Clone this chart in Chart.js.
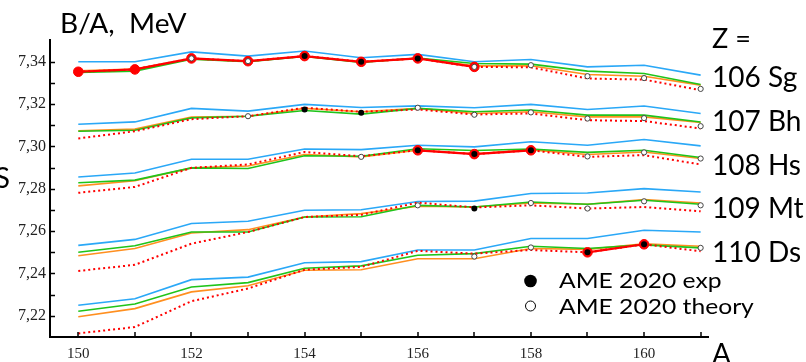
<!DOCTYPE html>
<html>
<head>
<meta charset="utf-8">
<script src="https://cdn.jsdelivr.net/npm/chart.js@4/dist/chart.umd.min.js"></script>
<style>
  html, body { margin: 0; padding: 0; background: #fff; }
  #wrap { width: 806px; height: 362px; position: relative; }
</style>
</head>
<body>
<div id="wrap"><canvas id="c" width="806" height="362"></canvas></div>
<script>
// Mass numbers A along the isotope chains
const massNumbers = [150, 151, 152, 153, 154, 155, 156, 157, 158, 159, 160, 161];

// Y tick values (MeV) and which of them carry a label
const yTickValues = [7.22, 7.23, 7.24, 7.25, 7.26, 7.27, 7.28, 7.29, 7.30, 7.31, 7.32, 7.33, 7.34];

// Z = 106 (Sg)
const sgBlue   = [7.3400, 7.3400, 7.3447, 7.3427, 7.3451, 7.3419, 7.3435, 7.3400, 7.3411, 7.3376, 7.3384, 7.3337];
const sgGreen  = [7.3350, 7.3356, 7.3412, 7.3401, 7.3425, 7.3397, 7.3418, 7.3392, 7.3389, 7.3356, 7.3345, 7.3293];
const sgOrange = [7.3358, 7.3366, 7.3413, 7.3402, 7.3426, 7.3399, 7.3416, 7.3381, 7.3381, 7.3340, 7.3332, 7.3290];
const sgRed    = [7.3353, 7.3364, 7.3416, 7.3403, 7.3427, 7.3400, 7.3416, 7.3376, 7.3374, 7.3321, 7.3316, 7.3266];
const sgRedFit = [7.3353, 7.3364, 7.3416, 7.3403, 7.3427, 7.3400, 7.3416, 7.3376, null, null, null, null];
const sgExp    = [null, null, null, null, 7.3427, 7.3400, 7.3416, null, null, null, null, null];
const sgTheory = [null, null, 7.3416, 7.3403, null, null, null, 7.3376, 7.3384, 7.3332, 7.3323, 7.3272];

// Z = 107 (Bh)
const bhBlue   = [7.3105, 7.3116, 7.3180, 7.3167, 7.3199, 7.3184, 7.3192, 7.3183, 7.3199, 7.3175, 7.3191, 7.3156];
const bhGreen  = [7.3072, 7.3077, 7.3135, 7.3143, 7.3170, 7.3153, 7.3180, 7.3164, 7.3172, 7.3148, 7.3148, 7.3116];
const bhOrange = [7.3074, 7.3082, 7.3139, 7.3143, 7.3180, 7.3164, 7.3180, 7.3156, 7.3164, 7.3140, 7.3140, 7.3113];
const bhRed    = [7.3038, 7.3072, 7.3129, 7.3143, 7.3183, 7.3164, 7.3175, 7.3151, 7.3156, 7.3124, 7.3120, 7.3085];
const bhRedFit = [null, null, null, null, null, null, null, null, null, null, null, null];
const bhExp    = [null, null, null, null, 7.3175, 7.3159, null, null, null, null, null, null];
const bhTheory = [null, null, null, 7.3143, null, null, 7.3183, 7.3150, 7.3161, 7.3132, 7.3134, 7.3096];

// Z = 108 (Hs)
const hsBlue   = [7.2856, 7.2875, 7.2940, 7.2940, 7.2988, 7.2985, 7.3006, 7.2998, 7.3022, 7.3006, 7.3033, 7.3003];
const hsGreen  = [7.2829, 7.2841, 7.2899, 7.2896, 7.2956, 7.2954, 7.2989, 7.2981, 7.2988, 7.2972, 7.2982, 7.2948];
const hsOrange = [7.2814, 7.2838, 7.2899, 7.2908, 7.2962, 7.2951, 7.2982, 7.2966, 7.2984, 7.2962, 7.2974, 7.2943];
const hsRed    = [7.2781, 7.2809, 7.2899, 7.2915, 7.2974, 7.2954, 7.2982, 7.2964, 7.2982, 7.2951, 7.2959, 7.2915];
const hsRedFit = [null, null, null, null, null, null, 7.2982, 7.2964, 7.2982, null, null, null];
const hsExp    = [null, null, null, null, null, null, 7.2982, 7.2964, 7.2982, null, null, null];
const hsTheory = [null, null, null, null, null, 7.2951, null, null, null, 7.2953, 7.2972, 7.2943];

// Z = 109 (Mt)
const mtBlue   = [7.2533, 7.2561, 7.2636, 7.2647, 7.2699, 7.2701, 7.2740, 7.2742, 7.2778, 7.2780, 7.2801, 7.2785];
const mtGreen  = [7.2500, 7.2531, 7.2596, 7.2596, 7.2667, 7.2668, 7.2722, 7.2714, 7.2738, 7.2727, 7.2746, 7.2727];
const mtOrange = [7.2484, 7.2518, 7.2591, 7.2607, 7.2667, 7.2683, 7.2718, 7.2714, 7.2733, 7.2727, 7.2749, 7.2733];
const mtRed    = [7.2412, 7.2441, 7.2541, 7.2596, 7.2667, 7.2677, 7.2735, 7.2712, 7.2722, 7.2707, 7.2714, 7.2694];
const mtRedFit = [null, null, null, null, null, null, null, null, null, null, null, null];
const mtExp    = [null, null, null, null, null, null, null, 7.2707, null, null, null, null];
const mtTheory = [null, null, null, null, null, null, 7.2722, null, 7.2733, 7.2707, 7.2741, 7.2722];

// Z = 110 (Ds)
const dsBlue   = [7.2250, 7.2281, 7.2371, 7.2383, 7.2451, 7.2456, 7.2511, 7.2511, 7.2565, 7.2565, 7.2604, 7.2596];
const dsGreen  = [7.2222, 7.2256, 7.2336, 7.2357, 7.2425, 7.2436, 7.2486, 7.2494, 7.2529, 7.2518, 7.2535, 7.2521];
const dsOrange = [7.2196, 7.2234, 7.2313, 7.2342, 7.2415, 7.2418, 7.2470, 7.2470, 7.2518, 7.2514, 7.2540, 7.2529];
const dsRed    = [7.2117, 7.2147, 7.2269, 7.2329, 7.2418, 7.2431, 7.2507, 7.2494, 7.2511, 7.2500, 7.2538, 7.2505];
const dsRedFit = [null, null, null, null, null, null, null, null, null, 7.2500, 7.2538, null];
const dsExp    = [null, null, null, null, null, null, null, null, null, 7.2500, 7.2538, null];
const dsTheory = [null, null, null, null, null, null, null, 7.2480, 7.2523, null, null, 7.2521];

// Element labels on the right
const elementLabels = ['106 Sg', '107 Bh', '108 Hs', '109 Mt', '110 Ds'];

const chains = [
  [sgBlue, sgGreen, sgOrange, sgRed, sgRedFit, sgExp, sgTheory],
  [bhBlue, bhGreen, bhOrange, bhRed, bhRedFit, bhExp, bhTheory],
  [hsBlue, hsGreen, hsOrange, hsRed, hsRedFit, hsExp, hsTheory],
  [mtBlue, mtGreen, mtOrange, mtRed, mtRedFit, mtExp, mtTheory],
  [dsBlue, dsGreen, dsOrange, dsRed, dsRedFit, dsExp, dsTheory]
];

const BLUE = '#2aa8f7', GREEN = '#1fc41a', ORANGE = '#ff8f1f', RED = '#ff0000';

const pts = arr => massNumbers.map((a, i) => ({ x: a, y: arr[i] }));

// Build datasets from bottom layer to top layer
const layers = { blue: [], orange: [], green: [], red: [], fit: [], theory: [], exp: [] };
chains.forEach(([blue, green, orange, red, fit, exp, theory]) => {
  layers.blue.push({ data: pts(blue), borderColor: BLUE, borderWidth: 1.6, pointRadius: 0, tension: 0 });
  layers.orange.push({ data: pts(orange), borderColor: ORANGE, borderWidth: 1.6, pointRadius: 0, tension: 0 });
  layers.green.push({ data: pts(green), borderColor: GREEN, borderWidth: 1.6, pointRadius: 0, tension: 0 });
  layers.red.push({ data: pts(red), borderColor: RED, borderWidth: 2, borderDash: [2, 3], pointRadius: 0, tension: 0 });
  layers.fit.push({ data: pts(fit), borderColor: RED, borderWidth: 2.2, pointRadius: 4.8, pointBackgroundColor: RED,
                    pointBorderColor: RED, pointBorderWidth: 1, spanGaps: false, tension: 0 });
  layers.theory.push({ data: pts(theory), showLine: false, pointRadius: 2.6, pointBackgroundColor: '#fff',
                       pointBorderColor: '#444', pointBorderWidth: 1 });
  layers.exp.push({ data: pts(exp), showLine: false, pointRadius: 3, pointBackgroundColor: '#000',
                    pointBorderColor: '#000', pointBorderWidth: 0 });
});
const ordered = [].concat(layers.blue, layers.orange, layers.green, layers.red, layers.fit, layers.theory, layers.exp);
// Chart.js draws lower "order" on top
ordered.forEach((d, i) => { d.order = ordered.length - i; d.fill = false; });

// Short tick marks pointing into the plot area
const inwardTicks = {
  id: 'inwardTicks',
  afterDraw(chart) {
    const { ctx, chartArea, scales } = chart;
    ctx.save();
    ctx.strokeStyle = '#000';
    ctx.lineWidth = 1.5;
    scales.x.ticks.forEach(t => {
      const px = Math.round(scales.x.getPixelForValue(t.value));
      ctx.beginPath();
      ctx.moveTo(px, chartArea.bottom);
      ctx.lineTo(px, chartArea.bottom - 5);
      ctx.stroke();
    });
    scales.y.ticks.forEach(t => {
      const py = Math.round(scales.y.getPixelForValue(t.value)) + 0.5;
      ctx.beginPath();
      ctx.moveTo(chartArea.left, py);
      ctx.lineTo(chartArea.left + 5, py);
      ctx.stroke();
    });
    ctx.restore();
  }
};

function stretchedText(ctx, text, x, y, sx) {
  ctx.save();
  ctx.translate(x, y);
  ctx.scale(sx, 1);
  ctx.fillText(text, 0, 0);
  ctx.restore();
}

// Titles, element labels and the marker key
const annotations = {
  id: 'annotations',
  afterDraw(chart) {
    const ctx = chart.ctx;
    ctx.save();
    ctx.fillStyle = '#000';
    ctx.textBaseline = 'alphabetic';
    ctx.textAlign = 'left';

    ctx.font = '26px Lato';
    stretchedText(ctx, 'B/A,  MeV', 60, 33, 1.08);

    ctx.font = '27px Lato';
    ctx.fillText('Z =', 712, 48);
    const baselines = [87, 131, 175, 218, 262];
    ctx.font = '28px Lato';
    elementLabels.forEach((lbl, i) => ctx.fillText(lbl, 712, baselines[i]));
    ctx.fillText('A', 712, 364);

    ctx.textAlign = 'right';
    ctx.fillText('S', 10, 188);
    ctx.textAlign = 'left';

    // marker key
    ctx.font = '22px Lato';
    ctx.beginPath();
    ctx.arc(530.5, 281, 6.3, 0, Math.PI * 2);
    ctx.fillStyle = '#000';
    ctx.fill();
    stretchedText(ctx, 'AME 2020 exp', 559, 288, 1.12);
    ctx.beginPath();
    ctx.arc(530.5, 306, 5, 0, Math.PI * 2);
    ctx.fillStyle = '#fff';
    ctx.fill();
    ctx.strokeStyle = '#000';
    ctx.lineWidth = 1;
    ctx.stroke();
    ctx.fillStyle = '#000';
    stretchedText(ctx, 'AME 2020 theory', 559, 314, 1.12);
    ctx.restore();
  }
};

new Chart(document.getElementById('c'), {
  type: 'line',
  data: { datasets: ordered },
  options: {
    responsive: false,
    animation: false,
    devicePixelRatio: 1,
    events: [],
    layout: { padding: { left: 0, top: 40, right: 98, bottom: 0 } },
    plugins: { legend: { display: false }, tooltip: { enabled: false } },
    scales: {
      x: {
        type: 'linear',
        min: 149.5,
        max: 161.13,
        afterBuildTicks: s => { s.ticks = massNumbers.map(v => ({ value: v })); },
        afterFit: s => { s.height = 25; },
        grid: { drawOnChartArea: false, drawTicks: false },
        border: { color: '#000', width: 2 },
        ticks: {
          autoSkip: false, maxRotation: 0, padding: 8, color: '#222',
          font: { family: 'Liberation Serif', size: 15 },
          callback: v => (v % 2 === 0 ? String(v) : '')
        }
      },
      y: {
        type: 'linear',
        min: 7.21,
        max: 7.3503,
        afterBuildTicks: s => { s.ticks = yTickValues.map(v => ({ value: v })); },
        afterFit: s => { s.width = 50; },
        grid: { drawOnChartArea: false, drawTicks: false },
        border: { color: '#000', width: 2 },
        ticks: {
          autoSkip: false, padding: 4, color: '#222',
          font: { family: 'Liberation Serif', size: 16 },
          callback: v => (Math.round(v * 100) % 2 === 0 ? v.toFixed(2).replace('.', ',') : '')
        }
      }
    }
  },
  plugins: [inwardTicks, annotations]
});
</script>
</body>
</html>
